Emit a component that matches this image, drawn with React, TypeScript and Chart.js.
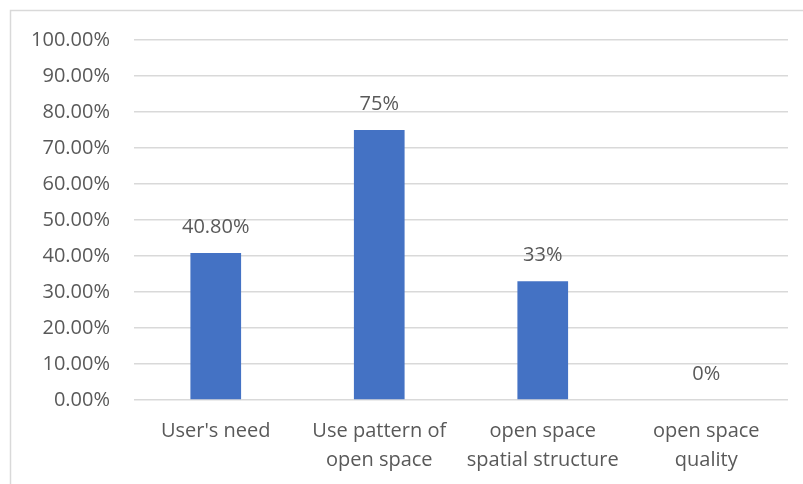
import React, { useEffect, useRef } from "react";
import { Chart, registerables } from "chart.js";

Chart.register(...registerables);

const categories: string[][] = [
  ["User's need"],
  ["Use pattern of", "open space"],
  ["open space", "spatial structure"],
  ["open space", "quality"],
];
const values: number[] = [40.8, 75, 33, 0];
const valueLabels: string[] = ["40.80%", "75%", "33%", "0%"];
const yMax = 100;
const yStep = 10;

const FONT = "'Open Sans', sans-serif";
const TEXT = "#595959";

const borderPlugin = {
  id: "frame",
  beforeDraw(chart: any) {
    const ctx = chart.ctx;
    ctx.save();
    ctx.fillStyle = "#ffffff";
    ctx.fillRect(0, 0, chart.width, chart.height);
    ctx.strokeStyle = "#d9d9d9";
    ctx.lineWidth = 1.5;
    ctx.beginPath();
    ctx.moveTo(10.5, chart.height);
    ctx.lineTo(10.5, 10.5);
    ctx.lineTo(chart.width, 10.5);
    ctx.stroke();
    ctx.restore();
  },
};

const valueLabelPlugin = {
  id: "valueLabels",
  afterDatasetsDraw(chart: any) {
    const ctx = chart.ctx;
    const meta = chart.getDatasetMeta(0);
    ctx.save();
    ctx.font = `20px ${FONT}`;
    ctx.fillStyle = TEXT;
    ctx.textAlign = "center";
    ctx.textBaseline = "middle";
    meta.data.forEach((bar: any, i: number) => {
      ctx.fillText(valueLabels[i], bar.x, bar.y - 26);
    });
    ctx.restore();
  },
};

export default function App() {
  const ref = useRef<HTMLCanvasElement>(null);
  useEffect(() => {
    if (!ref.current) return;
    const chart = new Chart(ref.current, {
      type: "bar",
      data: {
        labels: categories,
        datasets: [
          {
            data: values,
            backgroundColor: "#4472C4",
            borderWidth: 0,
            barPercentage: 0.31,
            categoryPercentage: 1,
          },
        ],
      },
      options: {
        responsive: false,
        animation: false,
        devicePixelRatio: 1,
        layout: { padding: { left: 0, right: 15, top: 40, bottom: 0 } },
        plugins: {
          legend: { display: false },
          tooltip: { enabled: false },
        },
        scales: {
          x: {
            grid: { display: false },
            border: { display: false },
            ticks: {
              color: TEXT,
              font: { family: FONT, size: 20, lineHeight: 1.45 },
              padding: 9,
              maxRotation: 0,
              autoSkip: false,
            },
            afterFit(scale: any) {
              scale.height = 84;
            },
          },
          y: {
            min: 0,
            max: yMax,
            border: { display: false },
            grid: { color: "#d9d9d9", lineWidth: 1.5, drawTicks: false },
            ticks: {
              stepSize: yStep,
              color: TEXT,
              padding: 24,
              font: { family: FONT, size: 20 },
              callback: (v: any) => Number(v).toFixed(2) + "%",
            },
            afterFit(scale: any) {
              scale.width = 134;
            },
          },
        },
      },
      plugins: [borderPlugin, valueLabelPlugin],
    });
    return () => chart.destroy();
  }, []);
  return (
    <div style={{ position: "fixed", left: 0, top: 0, width: 803, height: 484 }}>
      <canvas ref={ref} width={803} height={484} />
    </div>
  );
}
